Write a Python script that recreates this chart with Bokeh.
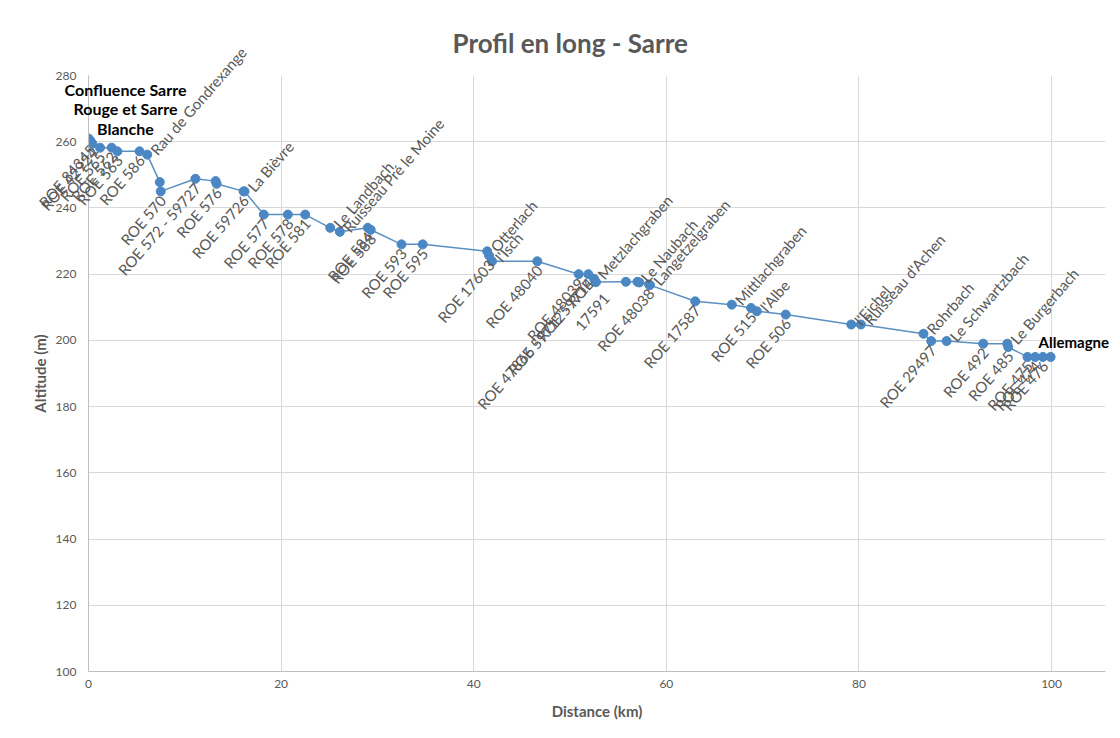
from bokeh.plotting import figure
from bokeh.models import ColumnDataSource, Range1d
from bokeh.embed import file_html
from bokeh.resources import INLINE
from bokeh.core.properties import value

# ---------------- data ----------------
distance_km = [0.0, 0.2, 0.4, 1.2, 2.4, 3.0, 5.3, 6.1, 7.4, 7.5,
               11.1, 13.2, 13.3, 16.1, 16.2, 18.2, 20.7, 22.5, 25.1, 26.1,
               29.0, 29.3, 32.5, 34.7, 41.4, 41.6, 41.9, 46.6, 50.9, 51.9,
               52.5, 52.7, 55.8, 57.0, 57.2, 58.2, 58.3, 63.0, 66.8, 68.8,
               69.4, 72.4, 79.2, 80.2, 86.7, 87.5, 89.1, 92.9, 95.4, 95.5,
               97.5, 98.3, 99.1, 99.9]
altitude_m = [261.0, 260.3, 259.4, 258.2, 258.2, 257.1, 257.1, 256.1, 247.8, 245.0,
              248.8, 248.1, 247.3, 245.0, 245.0, 238.0, 238.0, 238.0, 234.0, 232.8,
              234.0, 233.4, 229.0, 229.0, 226.9, 225.6, 223.9, 223.9, 220.0, 220.0,
              218.6, 217.6, 217.7, 217.7, 217.5, 216.9, 216.7, 211.8, 210.8, 209.8,
              208.8, 207.8, 204.8, 204.8, 202.0, 199.8, 199.8, 199.0, 199.0, 198.0,
              195.0, 195.0, 195.0, 195.0]
point_labels = ["Confluence Sarre\nRouge et Sarre\nBlanche", "ROE 84345", "ROE 42924", "ROE 565",
                "ROE 562", "ROE 563", "ROE 586", "Rau de Gondrexange", "", "ROE 570",
                "ROE 572 - 59727", "", "ROE 576", "ROE 59726", "La Bièvre", "ROE 577",
                "ROE 578", "ROE 581", "Le Landbach", "Ruisseau Pré le Moine",
                "ROE 584", "ROE 588", "ROE 593", "ROE 595", "Otterlach", "ROE 17603",
                "l'Isch", "ROE 48040", "ROE 48039", "ROE 47866 - ROE 59714",
                "Metzlachgraben", "ROE 59712 - ROE\n17591", "", "Le Naubach", "",
                "ROE 48038", "Langetzelgraben", "ROE 17587", "Mittlachgraben", "ROE 515",
                "l'Albe", "ROE 506", "l'Eichel", "Ruisseau d'Achen", "Rohrbach",
                "ROE 29497", "Le Schwartzbach", "ROE 492", "Le Burgerbach", "ROE 485",
                "ROE 475", "ROE 474", "ROE 476", "Allemagne"]

x_ticks = [0, 20, 40, 60, 80, 100]
y_ticks = [100, 120, 140, 160, 180, 200, 220, 240, 260, 280]

title_text = "Profil en long - Sarre"
x_title = "Distance (km)"
y_title = "Altitude (m)"

# ---------------- style ----------------
GREY = "#595959"
GRID = "#d9d9d9"
LINE = "#5b8fc2"
MARK = "#4a87c3"
FONT = "Lato"
ANGLE = 49

p = figure(width=1112, height=730,
           x_range=Range1d(0, 105.6), y_range=Range1d(100, 280),
           output_backend="svg", toolbar_location=None,
           min_border_left=88, min_border_right=7,
           min_border_top=75, min_border_bottom=59)

p.title.text = title_text
p.title.align = "left"
p.title.offset = 364
p.title.text_font = FONT
p.title.text_font_size = "26px"
p.title.text_font_style = "bold"
p.title.text_color = GREY
p.title.standoff = 34

p.outline_line_color = None
p.background_fill_color = "white"
p.border_fill_color = "white"

p.xaxis.ticker = x_ticks
p.yaxis.ticker = y_ticks
for ax in (p.xaxis, p.yaxis):
    ax.major_tick_line_color = None
    ax.minor_tick_line_color = None
    ax.major_tick_out = 0
    ax.major_tick_in = 0
    ax.axis_line_color = "#bfbfbf"
    ax.major_label_text_color = GREY
    ax.major_label_text_font = FONT
    ax.major_label_text_font_size = "12px"
    ax.axis_label_text_color = GREY
    ax.axis_label_text_font = FONT
    ax.axis_label_text_font_size = "15px"
    ax.axis_label_text_font_style = "bold"
p.xaxis.axis_label = x_title
p.yaxis.axis_label = y_title
p.xaxis.major_label_standoff = 8
p.yaxis.major_label_standoff = 12
p.xaxis.axis_label_standoff = 11
p.yaxis.axis_label_standoff = 4

p.xgrid.grid_line_color = GRID
p.ygrid.grid_line_color = GRID

p.line(distance_km, altitude_m, line_color=LINE, line_width=1.5)
p.scatter(distance_km, altitude_m, size=9, fill_color=MARK, line_color=MARK)

# ---------------- labels ----------------
n = len(distance_km)
below = dict(x=[], y=[], t=[])
above = dict(x=[], y=[], t=[])
for i in range(1, n - 1):
    t = point_labels[i]
    if not t:
        continue
    d = below if t.startswith("ROE") else above
    d["x"].append(distance_km[i])
    d["y"].append(altitude_m[i])
    d["t"].append(t)

p.text(x="x", y="y", text="t", source=ColumnDataSource(below), level="overlay",
       angle=ANGLE, angle_units="deg", text_align="right", text_baseline="middle",
       x_offset=2, y_offset=6, text_font=value(FONT), text_font_size="15px",
       text_color=GREY)
p.text(x="x", y="y", text="t", source=ColumnDataSource(above), level="overlay",
       angle=ANGLE, angle_units="deg", text_align="left", text_baseline="middle",
       x_offset=6, y_offset=-2, text_font=value(FONT), text_font_size="15px",
       text_color=GREY)

p.text(x=[distance_km[0]], y=[altitude_m[0]], text=[point_labels[0]], level="overlay",
       text_align="center", text_baseline="bottom", x_offset=37, y_offset=0,
       text_font=value(FONT), text_font_size="16px", text_font_style="bold",
       text_color="black", text_line_height=1.05)
p.text(x=[distance_km[-1]], y=[altitude_m[-1]], text=[point_labels[-1]], level="overlay",
       text_align="left", text_baseline="middle", x_offset=-12, y_offset=-15,
       text_font=value(FONT), text_font_size="15px", text_font_style="bold",
       text_color="black")

open("out.html", "w").write(file_html(p, INLINE))
